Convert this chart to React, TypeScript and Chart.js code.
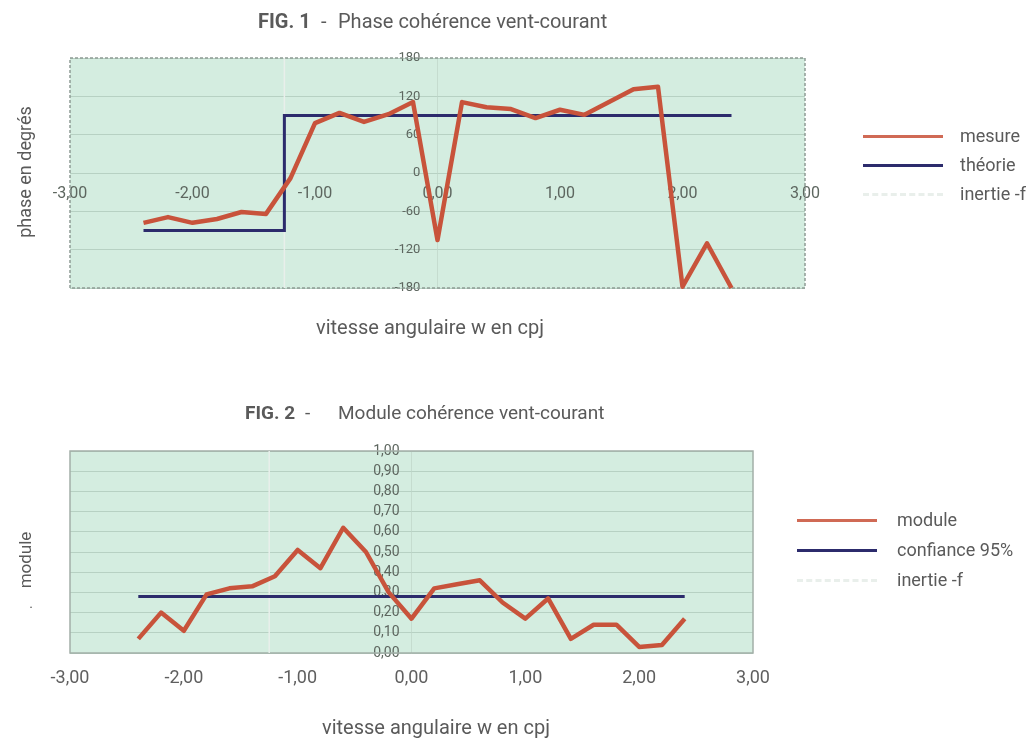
import React, { useEffect, useRef } from 'react';
import { Chart, registerables } from 'chart.js';
Chart.register(...registerables);

// ---------- data ----------
const omega = [-2.4, -2.2, -2.0, -1.8, -1.6, -1.4, -1.2, -1.0, -0.8, -0.6, -0.4, -0.2, 0.0, 0.2, 0.4, 0.6, 0.8, 1.0, 1.2, 1.4, 1.6, 1.8, 2.0, 2.2, 2.4];
const phaseMesure = [-78, -69, -78, -72, -61, -64, -8, 78, 94, 80, 92, 111, -105, 111, 103, 100, 86, 99, 91, 111, 131, 135, -178, -110, -180];
const theorieX = [-2.4, -1.25, -1.25, 2.4];
const theorieY = [-90, -90, 90, 90];
const inertieX = [-1.25, -1.25];
const inertiePhaseY = [-180, 180];
const inertieModuleY = [0, 1];
const moduleValues = [0.07, 0.2, 0.11, 0.29, 0.32, 0.33, 0.38, 0.51, 0.42, 0.62, 0.5, 0.3, 0.17, 0.32, 0.34, 0.36, 0.25, 0.17, 0.27, 0.07, 0.14, 0.14, 0.03, 0.04, 0.17];
const confianceX = [-2.4, 2.4];
const confianceY = [0.28, 0.28];

const xTicks = [-3, -2, -1, 0, 1, 2, 3];
const xTickLabels = ['-3,00', '-2,00', '-1,00', '0,00', '1,00', '2,00', '3,00'];
const phaseTicks = [-180, -120, -60, 0, 60, 120, 180];
const phaseTickLabels = ['-180', '-120', '-60', '0', '60', '120', '180'];
const moduleTicks = [0, 0.1, 0.2, 0.3, 0.4, 0.5, 0.6, 0.7, 0.8, 0.9, 1.0];
const moduleTickLabels = ['0,00', '0,10', '0,20', '0,30', '0,40', '0,50', '0,60', '0,70', '0,80', '0,90', '1,00'];

// ---------- style ----------
const FONT = "Roboto, 'Noto Sans', sans-serif";
const RED = '#c8533b';
const RED_LEGEND = '#d06a55';
const BLUE = '#2c2b6c';
const FAINT = '#e9efeb';
const PLOT_BG = '#d4ede0';
const GRID = '#b7d1c3';
const TEXT = '#5a5a5a';
const TICK = '#5d665f';

const plotBg = {
  id: 'plotBg',
  beforeDraw(chart: any, _a: any, opts: any) {
    const { ctx, chartArea: a } = chart;
    ctx.save();
    ctx.fillStyle = opts.color;
    ctx.fillRect(a.left, a.top, a.right - a.left, a.bottom - a.top);
    ctx.restore();
  },
  beforeDatasetsDraw(chart: any, _a: any, opts: any) {
    const { ctx, chartArea: a } = chart;
    ctx.save();
    ctx.strokeStyle = opts.borderColor;
    ctx.lineWidth = 1.5;
    ctx.setLineDash(opts.dash || []);
    ctx.strokeRect(a.left, a.top, a.right - a.left, a.bottom - a.top);
    ctx.restore();
  },
};

const pts = (xs: number[], ys: number[]) => xs.map((x, i) => ({ x, y: ys[i] }));

function zeroWidth(s: any) { s.width = 0; }
function zeroHeight(s: any) { s.height = 0; }
const zeroLine = (c: any) => (c.tick && c.tick.value === 0 ? '#c5dccf' : 'rgba(0,0,0,0)');

function config1(): any {
  return {
    type: 'line',
    data: {
      datasets: [
        { label: 'mesure', data: pts(omega, phaseMesure), borderColor: RED, borderWidth: 4.5, pointRadius: 0, clip: false, borderJoinStyle: 'round' },
        { label: 'théorie', data: pts(theorieX, theorieY), borderColor: BLUE, borderWidth: 3, pointRadius: 0, clip: false },
        { label: 'inertie -f', data: pts(inertieX, inertiePhaseY), borderColor: FAINT, borderWidth: 1.5, pointRadius: 0, clip: false },
      ],
    },
    options: {
      animation: false,
      responsive: false,
      layout: { padding: { left: 70, right: 229, top: 58, bottom: 72 } },
      plugins: {
        legend: { display: false },
        tooltip: { enabled: false },
        plotBg: { color: PLOT_BG, borderColor: '#8f9c95', dash: [3, 2] },
      },
      scales: {
        x: {
          type: 'linear', min: -3, max: 3, position: { y: 0 },
          afterFit: zeroHeight,
          afterBuildTicks: (s: any) => { s.ticks = xTicks.map((v) => ({ value: v })); },
          ticks: { autoSkip: false, maxRotation: 0, padding: 11, color: TICK, font: { family: FONT, size: 16 },
            callback: (_v: any, i: number) => xTickLabels[i] },
          grid: { drawTicks: false, color: zeroLine },
          border: { display: false },
        },
        y: {
          type: 'linear', min: -180, max: 180, position: { x: -0.14 },
          afterFit: zeroWidth,
          afterBuildTicks: (s: any) => { s.ticks = phaseTicks.map((v) => ({ value: v })); },
          ticks: { autoSkip: false, padding: 0, color: TICK, font: { family: FONT, size: 13 },
            callback: (_v: any, i: number) => phaseTickLabels[i] },
          grid: { drawTicks: false, color: GRID },
          border: { display: false },
        },
      },
    },
    plugins: [plotBg],
  };
}

function config2(): any {
  return {
    type: 'line',
    data: {
      datasets: [
        { label: 'module', data: pts(omega, moduleValues), borderColor: RED, borderWidth: 4.5, pointRadius: 0, clip: false, borderJoinStyle: 'round' },
        { label: 'confiance 95%', data: pts(confianceX, confianceY), borderColor: BLUE, borderWidth: 3, pointRadius: 0, clip: false },
        { label: 'inertie -f', data: pts(inertieX, inertieModuleY), borderColor: FAINT, borderWidth: 1.5, pointRadius: 0, clip: false },
      ],
    },
    options: {
      animation: false,
      responsive: false,
      layout: { padding: { left: 70, right: 281, top: 71, bottom: 87 } },
      plugins: {
        legend: { display: false },
        tooltip: { enabled: false },
        plotBg: { color: PLOT_BG, borderColor: '#a3afa8', dash: [] },
      },
      scales: {
        x: {
          type: 'linear', min: -3, max: 3, position: { y: 0 },
          afterFit: zeroHeight,
          afterBuildTicks: (s: any) => { s.ticks = xTicks.map((v) => ({ value: v })); },
          ticks: { autoSkip: false, maxRotation: 0, padding: 15, color: '#5f5f5f', font: { family: FONT, size: 18 },
            callback: (_v: any, i: number) => xTickLabels[i] },
          grid: { display: true, drawTicks: false, color: zeroLine },
          border: { display: false },
        },
        y: {
          type: 'linear', min: 0, max: 1, position: { x: -0.105 },
          afterFit: zeroWidth,
          afterBuildTicks: (s: any) => { s.ticks = moduleTicks.map((v) => ({ value: v })); },
          ticks: { autoSkip: false, padding: 0, color: TICK, font: { family: FONT, size: 14 },
            callback: (_v: any, i: number) => moduleTickLabels[i] },
          grid: { drawTicks: false, color: GRID },
          border: { display: false },
        },
      },
    },
    plugins: [plotBg],
  };
}

function Centered({ x, y, rotate, size, children, weight }: any) {
  return (
    <div style={{
      position: 'absolute', left: x, top: y, whiteSpace: 'pre', fontSize: size, lineHeight: 1,
      fontWeight: weight || 400, transform: `translate(-50%, -50%)${rotate ? ' rotate(-90deg)' : ''}`,
    }}>{children}</div>
  );
}

function TextAt({ x, y, size, weight, children }: any) {
  return (
    <div style={{ position: 'absolute', left: x, top: y, transform: 'translateY(-50%)', fontSize: size, lineHeight: 1,
      fontWeight: weight || 400, whiteSpace: 'pre' }}>{children}</div>
  );
}

function LegendRow({ x1, x2, tx, y, color, dashed, label }: any) {
  return (
    <>
      <div style={{ position: 'absolute', left: x1, top: y - 1.5, width: x2 - x1, height: 0,
        borderTop: `3px ${dashed ? 'dashed' : 'solid'} ${color}` }} />
      <TextAt x={tx} y={y} size={18}>{label}</TextAt>
    </>
  );
}

export default function App() {
  const c1 = useRef<HTMLCanvasElement>(null);
  const c2 = useRef<HTMLCanvasElement>(null);
  useEffect(() => {
    document.body.style.margin = '0';
    const ch1 = new Chart(c1.current as HTMLCanvasElement, config1());
    const ch2 = new Chart(c2.current as HTMLCanvasElement, config2());
    return () => { ch1.destroy(); ch2.destroy(); };
  }, []);
  return (
    <div style={{ position: 'absolute', left: 0, top: 0, width: 1034, height: 740, background: '#fff', fontFamily: FONT, color: TEXT, overflow: 'hidden' }}>
      <canvas ref={c1} width={1034} height={360} style={{ position: 'absolute', left: 0, top: 0 }} />
      <canvas ref={c2} width={1034} height={360} style={{ position: 'absolute', left: 0, top: 380 }} />

      <TextAt x={258} y={21} size={20} weight={700}>FIG. 1</TextAt>
      <TextAt x={321} y={21} size={20}>-</TextAt>
      <TextAt x={338} y={21} size={20}>Phase cohérence vent-courant</TextAt>

      <TextAt x={245} y={412} size={19} weight={700}>FIG. 2</TextAt>
      <TextAt x={305} y={412} size={19}>-</TextAt>
      <TextAt x={338} y={412} size={19}>Module cohérence vent-courant</TextAt>

      <Centered x={25} y={172} rotate size={18}>phase en degrés</Centered>
      <Centered x={430} y={327} size={20}>vitesse angulaire w en cpj</Centered>
      <Centered x={25} y={560} rotate size={17}>module</Centered>
      <Centered x={31} y={603} size={14}>.</Centered>
      <Centered x={436} y={727} size={20}>vitesse angulaire w en cpj</Centered>

      <LegendRow x1={863} x2={943} tx={960} y={136} color={RED_LEGEND} label="mesure" />
      <LegendRow x1={863} x2={943} tx={960} y={165} color={BLUE} label="théorie" />
      <LegendRow x1={863} x2={943} tx={960} y={194} color={FAINT} dashed label="inertie -f" />

      <LegendRow x1={797} x2={877} tx={897} y={520} color={RED_LEGEND} label="module" />
      <LegendRow x1={797} x2={877} tx={897} y={550} color={BLUE} label="confiance 95%" />
      <LegendRow x1={797} x2={877} tx={897} y={580} color={FAINT} dashed label="inertie -f" />
    </div>
  );
}
